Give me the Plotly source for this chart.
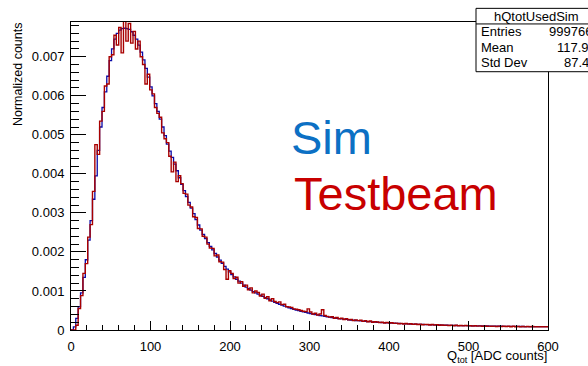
import plotly.graph_objects as go

# ---------------- data (values in units of 1e-4, bins of 3 ADC counts from 0 to 600) ----------------
bin_width = 3
sim_e4 = [
    0, 0.8, 3, 6, 9.5, 13.5, 18, 23, 28, 33.5,
    39.5, 46, 52, 57, 61, 65, 69, 72, 74.5, 76,
    76.8, 77.2, 77.3, 77.2, 77, 76.4, 75.5, 74.5, 73, 71.2,
    69.2, 67, 64.8, 62.3, 60, 58, 56, 54, 52, 49.8,
    47.6, 45.8, 44.2, 42.5, 40.8, 39, 37.3, 35.7, 34.2, 32.7,
    31.2, 29.8, 28.3, 26.9, 25.6, 24.5, 23.4, 22.4, 21.4, 20.5,
    19.6, 18.7, 17.9, 17.1, 16.3, 15.6, 14.9, 14.2, 13.6, 13.0,
    12.5, 12.0, 11.5, 11.0, 10.6, 10.2, 9.85, 9.5, 9.2, 8.9,
    8.6, 8.3, 8.0, 7.7, 7.4, 7.1, 6.85, 6.6, 6.35, 6.1,
    5.9, 5.7, 5.5, 5.3, 5.1, 4.95, 4.8, 4.65, 4.5, 4.35,
    4.2, 4.05, 3.95, 3.85, 3.7, 3.6, 3.5, 3.4, 3.3, 3.2,
    3.1, 3.0, 2.92, 2.85, 2.78, 2.7, 2.63, 2.56, 2.5, 2.44,
    2.38, 2.32, 2.27, 2.22, 2.17, 2.12, 2.07, 2.03, 1.99, 1.95,
    1.91, 1.87, 1.83, 1.8, 1.77, 1.74, 1.71, 1.68, 1.65, 1.62,
    1.59, 1.56, 1.53, 1.5, 1.48, 1.46, 1.44, 1.42, 1.4, 1.38,
    1.36, 1.34, 1.32, 1.3, 1.28, 1.26, 1.24, 1.22, 1.2, 1.18,
    1.16, 1.15, 1.14, 1.13, 1.12, 1.11, 1.1, 1.09, 1.08, 1.07,
    1.06, 1.05, 1.04, 1.03, 1.02, 1.01, 1.0, 0.99, 0.98, 0.97,
    0.96, 0.95, 0.95, 0.94, 0.93, 0.92, 0.92, 0.91, 0.9, 0.9,
    0.89, 0.89, 0.88, 0.88, 0.87, 0.87, 0.86, 0.86, 0.85, 0.85,
]
testbeam_e4 = [
    0, 0, 1.2, 5.5, 8.8, 14.5, 17.0, 23.8, 27.0, 35.5,
    47.5, 45.0, 53.5, 56.0, 62.5, 63.0, 70.0, 70.5, 75.5, 73.0,
    77.5, 71.0, 79.5, 74.0, 78.5, 73.5, 76.5, 72.0, 74.0, 70.0,
    68.0, 63.0, 65.5, 61.5, 60.5, 57.0, 55.5, 54.5, 50.5, 49.0,
    48.0, 44.5, 40.5, 43.0, 38.0, 39.5, 37.5, 35.0, 34.8, 32.0,
    31.5, 29.0, 28.8, 26.0, 25.9, 24.0, 23.8, 22.0, 21.0, 20.9,
    19.0, 19.2, 17.5, 17.4, 15.5, 13.0, 15.2, 14.5, 13.2, 13.5,
    12.0, 12.4, 11.2, 11.5, 10.3, 10.8, 9.5, 10.0, 9.6, 8.7,
    9.2, 8.1, 8.5, 7.5, 8.0, 7.3, 7.0, 7.2, 6.5, 6.6,
    6.0, 5.9, 5.8, 5.4, 5.3, 5.2, 5.0, 4.8, 4.7, 5.4,
    4.6, 4.1, 4.3, 3.8, 4.1, 5.2, 3.7, 3.5, 3.3, 3.4,
    3.0, 3.2, 2.9, 3.0, 2.7, 2.9, 2.6, 2.7, 2.4, 2.6,
    2.4, 2.5, 2.2, 2.4, 2.1, 2.3, 2.0, 2.1, 2.05, 1.9,
    2.0, 1.8, 1.95, 1.75, 1.85, 1.7, 1.75, 1.6, 1.7, 1.55,
    1.65, 1.5, 1.6, 1.45, 1.55, 1.4, 1.5, 1.35, 1.45, 1.4,
    1.3, 1.4, 1.25, 1.35, 1.2, 1.3, 1.2, 1.25, 1.15, 1.2,
    1.1, 1.2, 1.1, 1.15, 1.05, 1.15, 1.05, 1.1, 1.0, 1.1,
    1.0, 1.05, 0.95, 1.05, 0.95, 1.0, 0.95, 1.0, 0.9, 1.0,
    0.9, 0.95, 0.9, 0.95, 0.85, 0.95, 0.85, 0.9, 0.85, 0.9,
    0.8, 0.9, 0.8, 0.9, 0.8, 0.85, 0.8, 0.85, 0.8, 0.85,
]
y_tick_vals = [0, 0.001, 0.002, 0.003, 0.004, 0.005, 0.006, 0.007]
y_tick_text = ["0", "0.001", "0.002", "0.003", "0.004", "0.005", "0.006", "0.007"]
x_tick_vals = [0, 100, 200, 300, 400, 500, 600]
stats_title = "hQtotUsedSim"
stats_rows = [("Entries", "999766"), ("Mean", "117.9"), ("Std Dev", "87.4")]

# ---------------- helpers ----------------
W, H = 588, 366
L, R, T, B = 71, 548, 22, 338
FONT = "Liberation Sans, Arial, Helvetica, sans-serif"


def px(x):
    return (x - L) / (R - L)


def py(y):
    return (B - y) / (B - T)


def step_xy(vals):
    xs = [i * bin_width for i in range(len(vals))] + [len(vals) * bin_width]
    ys = [v * 1e-4 for v in vals] + [vals[-1] * 1e-4]
    return xs, ys


fig = go.Figure()
sx, sy = step_xy(sim_e4)
tx, ty = step_xy(testbeam_e4)
fig.add_trace(go.Scatter(x=sx, y=sy, mode="lines", line=dict(shape="hv", color="#0a0aa8", width=1.3),
                         showlegend=False, hoverinfo="skip"))
fig.add_trace(go.Scatter(x=tx, y=ty, mode="lines", line=dict(shape="hv", color="#a80000", width=1.4),
                         showlegend=False, hoverinfo="skip"))

fig.update_layout(
    width=W, height=H,
    margin=dict(l=L, r=W - R, t=T, b=H - B, pad=0),
    paper_bgcolor="white", plot_bgcolor="white",
    font=dict(family=FONT, size=13, color="black"),
    showlegend=False,
)
fig.update_xaxes(
    range=[0, 600], tickvals=x_tick_vals, ticks="inside", ticklen=9, tickwidth=1, tickcolor="black",
    showline=True, linecolor="black", linewidth=1, mirror=True, showgrid=False, zeroline=False,
    minor=dict(ticks="inside", dtick=20, ticklen=5, tickwidth=1, tickcolor="black"),
    tickfont=dict(size=13), ticklabelstandoff=4,
)
fig.update_yaxes(
    range=[0, 0.00789], tickvals=y_tick_vals, ticktext=y_tick_text, ticks="inside", ticklen=15,
    tickwidth=1, tickcolor="black",
    showline=True, linecolor="black", linewidth=1, mirror=True, showgrid=False, zeroline=False,
    minor=dict(ticks="inside", dtick=0.0002, ticklen=8, tickwidth=1, tickcolor="black"),
    tickfont=dict(size=13), ticklabelstandoff=3,
)

# stats box
box_l, box_r, box_t, box_b, sep = 476, 600, 8, 73, 24
fig.add_shape(type="rect", xref="paper", yref="paper", x0=px(box_l), x1=px(box_r), y0=py(box_b), y1=py(box_t),
              fillcolor="white", line=dict(color="black", width=1), layer="above")
fig.add_shape(type="line", xref="paper", yref="paper", x0=px(box_l), x1=px(box_r), y0=py(sep), y1=py(sep),
              line=dict(color="black", width=1), layer="above")
fig.add_annotation(xref="paper", yref="paper", x=px(536), y=py(16), text=stats_title, showarrow=False,
                   xanchor="center", yanchor="middle", font=dict(size=13))
row_y = [32, 48, 64]
val_right = [594, 591, 591]
for (lab, val), yy, vr in zip(stats_rows, row_y, val_right):
    fig.add_annotation(xref="paper", yref="paper", x=px(479), y=py(yy), text=lab, showarrow=False,
                       xanchor="left", yanchor="middle", font=dict(size=13))
    fig.add_annotation(xref="paper", yref="paper", x=px(vr), y=py(yy), text=val, showarrow=False,
                       xanchor="right", yanchor="middle", font=dict(size=13))

# axis titles
fig.add_annotation(xref="paper", yref="paper", x=px(18), y=py(20), text="Normalized counts", textangle=-90,
                   showarrow=False, xanchor="center", yanchor="top", font=dict(size=12.5))
fig.add_annotation(xref="paper", yref="paper", x=px(549), y=py(365), text="Q<sub>tot</sub> [ADC counts]",
                   showarrow=False, xanchor="right", yanchor="middle", font=dict(size=13))

# big labels
fig.add_annotation(xref="paper", yref="paper", x=px(289), y=py(141), text="Sim", showarrow=False,
                   xanchor="left", yanchor="middle", font=dict(size=47, color="#0c70c4"))
fig.add_annotation(xref="paper", yref="paper", x=px(292), y=py(198), text="Testbeam", showarrow=False,
                   xanchor="left", yanchor="middle", font=dict(size=47, color="#c80000"))

fig.write_html("out.html")
